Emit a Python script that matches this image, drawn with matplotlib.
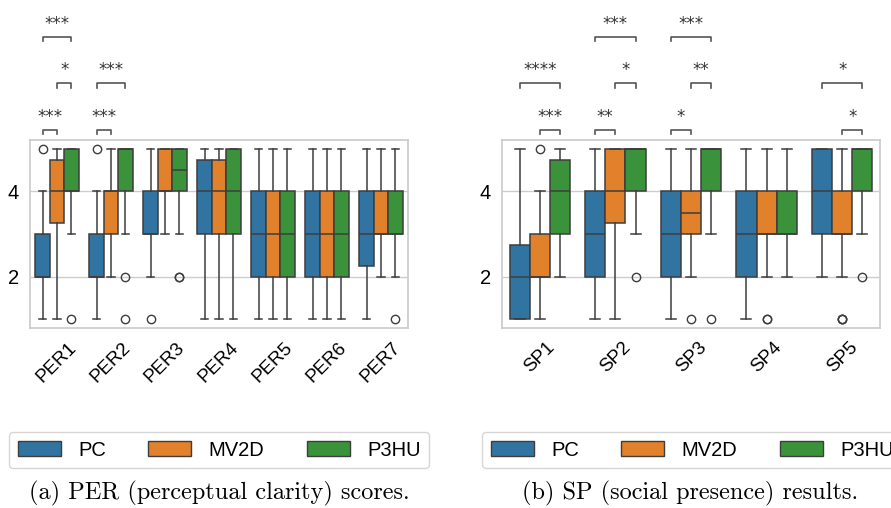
import matplotlib
matplotlib.use('Agg')
import matplotlib.pyplot as plt
from matplotlib.patches import Patch

# groups and colours (seaborn desaturated tab10)
groups = ['PC', 'MV2D', 'P3HU']
colors = ['#3274a1', '#e1812c', '#3a923a']

# PER panel, rows = PC, MV2D, P3HU
per_labels = ['PER1', 'PER2', 'PER3', 'PER4', 'PER5', 'PER6', 'PER7']
per_q1 = [[2, 2, 3, 3, 2, 2, 2.25],
          [3.25, 3, 4, 3, 2, 2, 3],
          [4, 4, 4, 3, 2, 2, 3]]
per_med = [[2, 2, 3, 4, 3, 3, 3],
           [4, 4, 4, 4, 3, 3, 3],
           [4, 5, 4.5, 4, 3, 3, 3]]
per_q3 = [[3, 3, 4, 4.75, 4, 4, 4],
          [4.75, 4, 5, 4.75, 4, 4, 4],
          [5, 5, 5, 5, 4, 4, 4]]
per_lo = [[1, 1, 2, 1, 1, 1, 1],
          [1, 2, 3, 1, 1, 1, 2],
          [3, 3, 3, 1, 1, 1, 2]]
per_hi = [[4, 4, 5, 5, 5, 5, 5],
          [5, 5, 5, 5, 5, 5, 5],
          [5, 5, 5, 5, 5, 5, 5]]
per_fliers = [[[5], [5], [1], [], [], [], []],
              [[], [], [], [], [], [], []],
              [[1], [2, 1], [2, 2], [], [], [], [1]]]
# (category, group a, group b, level, stars)
per_sig = [(0, 0, 1, 0, '***'), (1, 0, 1, 0, '***'),
           (0, 1, 2, 1, '*'), (1, 0, 2, 1, '***'),
           (0, 0, 2, 2, '***')]

# SP panel
sp_labels = ['SP1', 'SP2', 'SP3', 'SP4', 'SP5']
sp_q1 = [[1, 2, 2, 2, 3],
         [2, 3.25, 3, 3, 3],
         [3, 4, 4, 3, 4]]
sp_med = [[2, 3, 3, 3, 4],
          [2, 4, 3.5, 3, 3],
          [4, 5, 5, 3, 5]]
sp_q3 = [[2.75, 4, 4, 4, 5],
         [3, 5, 4, 4, 4],
         [4.75, 5, 5, 4, 5]]
sp_lo = [[1, 1, 1, 1, 2],
         [1, 1, 2, 2, 2],
         [2, 3, 3, 2, 3]]
sp_hi = [[5, 5, 5, 5, 5],
         [4, 5, 5, 5, 5],
         [5, 5, 5, 5, 5]]
sp_fliers = [[[], [], [], [], []],
             [[5], [], [1], [1, 1], [1, 1, 1]],
             [[], [2], [1], [], [2]]]
sp_sig = [(0, 1, 2, 0, '***'), (1, 0, 1, 0, '**'), (2, 0, 1, 0, '*'), (4, 1, 2, 0, '*'),
          (0, 0, 2, 1, '****'), (1, 1, 2, 1, '*'), (2, 1, 2, 1, '**'), (4, 0, 2, 1, '*'),
          (1, 0, 2, 2, '***'), (2, 0, 2, 2, '***')]

sans = ['Liberation Sans', 'DejaVu Sans']
line_col = '#3d3d3d'
grid_col = '#cccccc'
sig_levels = [5.44, 6.54, 7.63]


def draw_panel(ax, labels, q1, med, q3, lo, hi, fliers, sig):
    w = 0.8 / 3
    for g in range(3):
        stats = []
        for c in range(len(labels)):
            stats.append(dict(q1=q1[g][c], med=med[g][c], q3=q3[g][c],
                              whislo=lo[g][c], whishi=hi[g][c], fliers=fliers[g][c]))
        pos = [c + (g - 1) * w for c in range(len(labels))]
        ax.bxp(stats, positions=pos, widths=w, capwidths=w * 0.5,
               patch_artist=True, manage_ticks=False,
               boxprops=dict(facecolor=colors[g], edgecolor=line_col, linewidth=1.1),
               whiskerprops=dict(color=line_col, linewidth=1.1),
               capprops=dict(color=line_col, linewidth=1.1),
               medianprops=dict(color=line_col, linewidth=1.1),
               flierprops=dict(marker='o', markersize=6, markerfacecolor='none',
                               markeredgecolor=line_col, markeredgewidth=1.0))
    # significance brackets above the axes
    for c, a, b, lev, s in sig:
        x1 = c + (a - 1) * w
        x2 = c + (b - 1) * w
        y = sig_levels[lev]
        ax.plot([x1, x1, x2, x2], [y - 0.1, y, y, y - 0.1], color='#555555',
                lw=1.2, clip_on=False)
        ax.text((x1 + x2) / 2, y + 0.19, s, ha='center', va='baseline',
                fontsize=12, color='#333333', family=['DejaVu Sans'], clip_on=False)

    ax.set_xlim(-0.5, len(labels) - 0.5)
    ax.set_ylim(0.79, 5.21)
    ax.set_yticks([2, 4])
    ax.set_xticks(range(len(labels)))
    ax.set_xticklabels(labels, rotation=45, fontsize=13.5, family=sans)
    for t in ax.get_yticklabels():
        t.set_fontsize(14.5)
        t.set_family(sans)
    ax.tick_params(length=0, pad=8)
    ax.yaxis.grid(True, color=grid_col, lw=1)
    ax.xaxis.grid(False)
    ax.set_axisbelow(True)
    for sp in ax.spines.values():
        sp.set_color(grid_col)
        sp.set_linewidth(1.25)


fig = plt.figure(figsize=(8.91, 5.08), dpi=100)
ax1 = fig.add_axes([30 / 891, 1 - 328 / 508, 378 / 891, 188 / 508])
ax2 = fig.add_axes([502 / 891, 1 - 328 / 508, 378 / 891, 188 / 508])

draw_panel(ax1, per_labels, per_q1, per_med, per_q3, per_lo, per_hi, per_fliers, per_sig)
draw_panel(ax2, sp_labels, sp_q1, sp_med, sp_q3, sp_lo, sp_hi, sp_fliers, sp_sig)

handles = [Patch(facecolor=colors[i], edgecolor=line_col, label=groups[i]) for i in range(3)]
for cx in [219 / 891, 692 / 891]:
    fig.legend(handles=handles, loc='center', bbox_to_anchor=(cx, 1 - 450 / 508), ncol=3,
               prop=dict(family=sans, size=14.5), handlelength=2.15, handleheight=0.7,
               handletextpad=0.85, columnspacing=2.1, borderpad=0.4,
               frameon=True, edgecolor=grid_col, fancybox=True)

fig.text(219 / 891, 1 - 493 / 508, '(a) PER (perceptual clarity) scores.',
         ha='center', va='center', family='cmr10', fontsize=17.5)
fig.text(690 / 891, 1 - 493 / 508, '(b) SP (social presence) results.',
         ha='center', va='center', family='cmr10', fontsize=17.5)

fig.savefig('out.png', dpi=100)
